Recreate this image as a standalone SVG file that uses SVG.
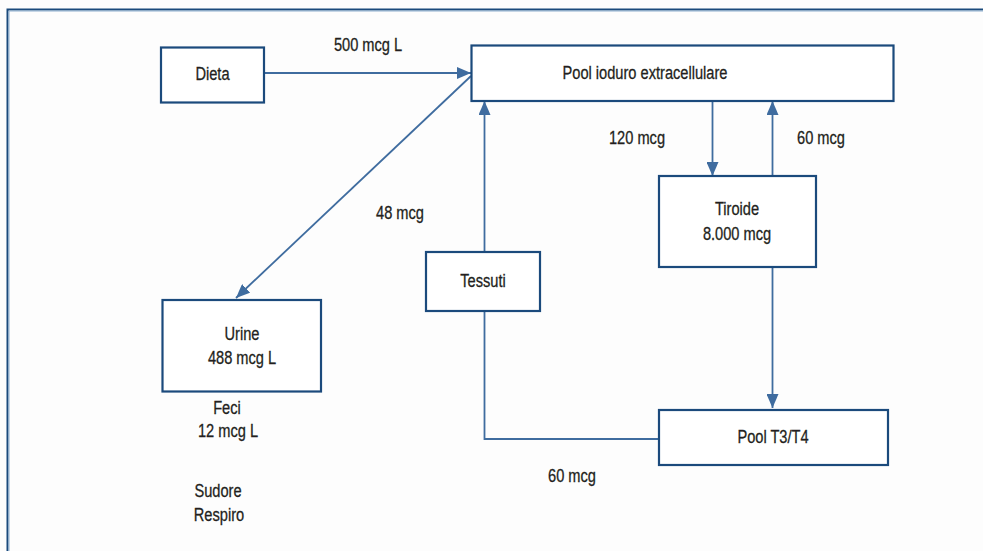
<svg xmlns="http://www.w3.org/2000/svg" width="983" height="551" viewBox="0 0 983 551">
<style>
.box{fill:#fff;stroke:#1b4a7c;stroke-width:2.2}
.t{font-family:"Liberation Sans",Arial,sans-serif;font-size:19px;fill:#231f20;stroke:#231f20;stroke-width:0.3;text-anchor:middle;dominant-baseline:central}
.c{fill:none;stroke:#3f6c9f;stroke-width:1.8}
</style>
<defs>
<marker id="ah" viewBox="0 0 14 12" refX="14" refY="6" markerWidth="14" markerHeight="12" markerUnits="userSpaceOnUse" orient="auto">
<path d="M0,0 L14,6 L0,12 Z" fill="#3f6c9f"/>
</marker>
</defs>
<rect width="983" height="551" fill="#fdfdfd"/>
<g id="frame">
<path d="M7.5,551 V9.5 H983" fill="none" stroke="#1b4a7c" stroke-width="2"/>
<path d="M9,551 V11 H983" fill="none" stroke="#8fb0d0" stroke-width="1"/>
</g>
<g id="connectors">
<line class="c" x1="264" y1="73" x2="471" y2="73" marker-end="url(#ah)"/>
<line class="c" x1="471" y1="76" x2="236" y2="298" marker-end="url(#ah)"/>
<line class="c" x1="712.5" y1="101" x2="712.5" y2="176" marker-end="url(#ah)"/>
<line class="c" x1="772.5" y1="176" x2="772.5" y2="101" marker-end="url(#ah)"/>
<line class="c" x1="772.5" y1="267" x2="772.5" y2="408" marker-end="url(#ah)"/>
<polyline class="c" points="659,439 484.5,439 484.5,311"/>
<line class="c" x1="484.5" y1="252" x2="484.5" y2="101" marker-end="url(#ah)"/>
<text class="t" transform="translate(368,45) scale(0.77,1)">500 mcg L</text>
<text class="t" transform="translate(400,213) scale(0.77,1)">48 mcg</text>
<text class="t" transform="translate(637,138) scale(0.77,1)">120 mcg</text>
<text class="t" transform="translate(821,138) scale(0.77,1)">60 mcg</text>
<text class="t" transform="translate(572,476) scale(0.77,1)">60 mcg</text>
</g>
<g id="dieta">
<rect class="box" x="161" y="47.5" width="103" height="55"/>
<text class="t" transform="translate(212.5,74) scale(0.77,1)">Dieta</text>
</g>
<g id="pool-ioduro">
<rect class="box" x="471.5" y="45.5" width="422" height="55.5"/>
<text class="t" transform="translate(645,73) scale(0.77,1)">Pool ioduro extracellulare</text>
</g>
<g id="tiroide">
<rect class="box" x="659" y="176" width="157" height="91"/>
<text class="t" transform="translate(737,209) scale(0.77,1)">Tiroide</text>
<text class="t" transform="translate(737,234) scale(0.77,1)">8.000 mcg</text>
</g>
<g id="tessuti">
<rect class="box" x="426" y="252" width="114" height="59"/>
<text class="t" transform="translate(483,281) scale(0.77,1)">Tessuti</text>
</g>
<g id="urine">
<rect class="box" x="162.5" y="300" width="158.5" height="91.5"/>
<text class="t" transform="translate(242,334) scale(0.77,1)">Urine</text>
<text class="t" transform="translate(242,358) scale(0.77,1)">488 mcg L</text>
</g>
<g id="pool-t3t4">
<rect class="box" x="659" y="410" width="229" height="55"/>
<text class="t" transform="translate(773,437) scale(0.77,1)">Pool T3/T4</text>
</g>
<g id="feci">
<text class="t" transform="translate(227,408) scale(0.77,1)">Feci</text>
<text class="t" transform="translate(228,431) scale(0.77,1)">12 mcg L</text>
</g>
<g id="sudore">
<text class="t" transform="translate(218,491) scale(0.77,1)">Sudore</text>
<text class="t" transform="translate(219,515) scale(0.77,1)">Respiro</text>
</g>
</svg>
